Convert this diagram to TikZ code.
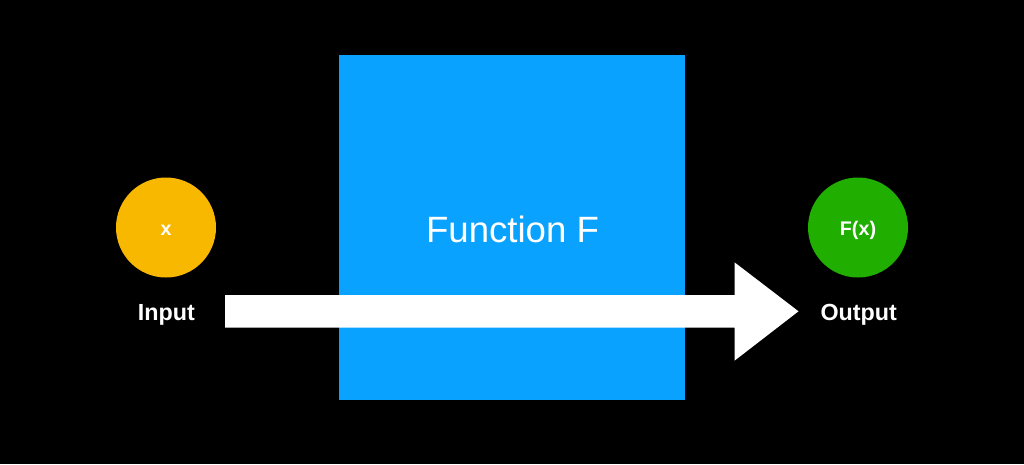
\documentclass[tikz,border=0pt]{standalone}
\usepackage{fontspec}
\setmainfont{Liberation Sans}
\usetikzlibrary{calc}
\definecolor{fnblue}{HTML}{0AA2FF}
\definecolor{inorange}{HTML}{F9B800}
\definecolor{outgreen}{HTML}{20AE00}
\tikzset{
  dot/.style={circle, minimum size=100pt, inner sep=0pt},
  dottext/.style={text=white, font=\fontsize{19.7}{22}\selectfont\bfseries, inner sep=0pt, anchor=base},
  lbl/.style={text=white, font=\fontsize{23.3}{26}\selectfont\bfseries, inner sep=0pt, anchor=base},
}
\begin{document}
\begin{tikzpicture}[x=1pt,y=-1pt]
\fill[black] (0,0) rectangle (1024,464);
\useasboundingbox (0,0) rectangle (1024,464);
% function box
\node[fill=fnblue, minimum width=346pt, minimum height=345pt, inner sep=0pt, anchor=north west] (box) at (339,55) {};
\node[text=white, font=\fontsize{36.6}{40}\selectfont, inner sep=0pt, anchor=base] (fn) at (512.5,242.3) {Function F};
% input / output circles
\node[dot, fill=inorange] (in) at (166,227.5) {};
\node[dot, fill=outgreen] (out) at (858,227.5) {};
\node[dottext] (inx) at (166,235.5) {x};
\node[dottext] (outf) at (858,235.5) {F(x)};
\node[lbl] (inl) at (166.3,320) {Input};
\node[lbl] (outl) at (858.7,320) {Output};
% arrow
\coordinate (astart) at (225,311.3);
\coordinate (aend) at (798.5,311.3);
\fill[white] ($(astart)+(0,-16.3)$) -- (734.5,295) -- (734.5,262.3) -- (aend) -- (734.5,360.7) -- (734.5,327.6) -- ($(astart)+(0,16.3)$) -- cycle;
\end{tikzpicture}
\end{document}
